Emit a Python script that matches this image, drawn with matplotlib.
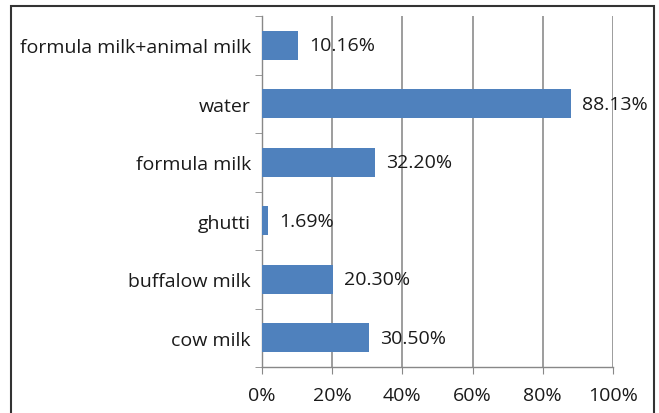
import matplotlib
matplotlib.use("Agg")
import matplotlib.pyplot as plt
from matplotlib.ticker import FixedLocator, FuncFormatter
from matplotlib.patches import Rectangle

categories = ["cow milk", "buffalow milk", "ghutti", "formula milk", "water", "formula milk+animal milk"]
values = [30.50, 20.30, 1.69, 32.20, 88.13, 10.16]
xticks = [0, 20, 40, 60, 80, 100]

plt.rcParams['font.family'] = ['Open Sans', 'DejaVu Sans']

fig = plt.figure(figsize=(6.59, 4.14), dpi=100)
W, H = 659, 414
ax = fig.add_axes([262 / W, 1 - 368 / H, (613 - 262) / W, (368 - 17) / H])

FS = 14
ypos = list(range(len(categories)))
ax.barh(ypos, values, height=0.5, color="#4F81BD", zorder=3)
for y, v in zip(ypos, values):
    ax.annotate(f"{v:.2f}%", (v, y), xytext=(8, 0), textcoords="offset points",
                va="center", ha="left", fontsize=FS, color="#1a1a1a")

ax.set_xlim(0, 100)
ax.set_ylim(-0.5, len(categories) - 0.5)
ax.set_xticks(xticks)
ax.xaxis.set_major_formatter(FuncFormatter(lambda x, p: f"{int(x)}%"))
ax.set_yticks(ypos)
ax.set_yticklabels(categories)
ax.yaxis.set_minor_locator(FixedLocator([i - 0.5 for i in range(len(categories) + 1)]))
ax.tick_params(axis="y", which="major", length=0, pad=8, labelsize=FS, labelcolor="#1a1a1a")
ax.tick_params(axis="y", which="minor", length=5, color="#888888", direction="out")
ax.tick_params(axis="x", which="major", length=5, color="#888888", pad=9, labelsize=FS, labelcolor="#1a1a1a")

ax.grid(axis="x", color="#8c8c8c", linewidth=1.2, zorder=0)
for s in ["top", "right"]:
    ax.spines[s].set_visible(False)
for s in ["left", "bottom"]:
    ax.spines[s].set_color("#888888")
    ax.spines[s].set_linewidth(1.0)

# Figure border
fig.patches.append(Rectangle((11 / W, -0.05), (654 - 11) / W, 1 - 7 / H + 0.05,
                             transform=fig.transFigure, fill=False,
                             edgecolor="#333333", linewidth=1.5))

fig.savefig("out.png", dpi=100)
